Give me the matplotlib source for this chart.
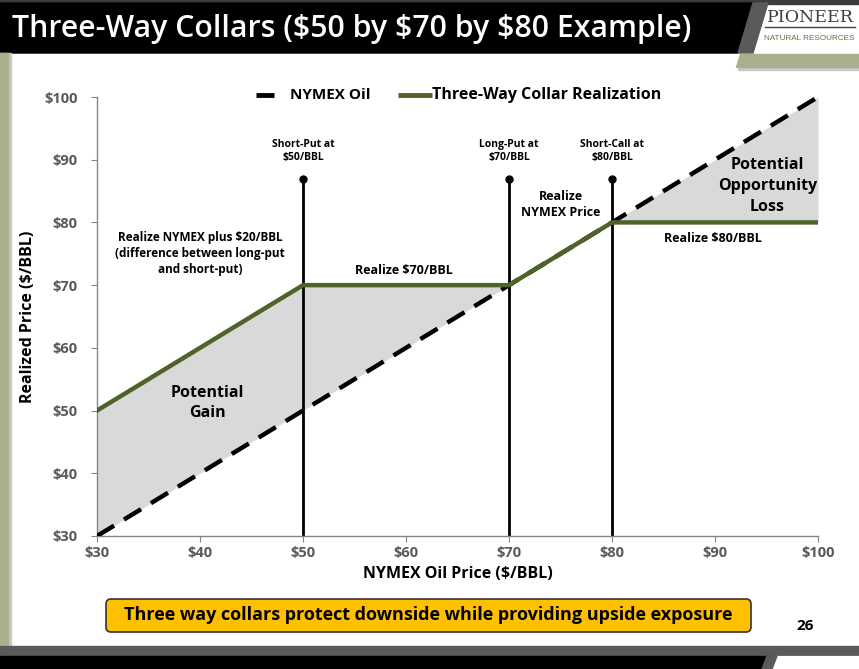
import matplotlib
matplotlib.use("Agg")
import matplotlib.pyplot as plt
from matplotlib.patches import Polygon, Rectangle, FancyBboxPatch
import numpy as np

plt.rcParams['font.family'] = ['Open Sans', 'DejaVu Sans']

# data
nymex_x = [30, 100]
nymex_y = [30, 100]
collar_x = [30, 50, 70, 80, 100]
collar_y = [50, 70, 70, 80, 80]
strikes = [50, 70, 80]
strike_top = 87
strike_labels = ['Short-Put at\n$50/BBL', 'Long-Put at\n$70/BBL', 'Short-Call at\n$80/BBL']
x_ticks = [30, 40, 50, 60, 70, 80, 90, 100]
y_ticks = [30, 40, 50, 60, 70, 80, 90, 100]

green = '#4f6228'
olive = '#a9ae8c'
tick_gray = '#595959'

W, H = 859, 669
fig = plt.figure(figsize=(W / 100, H / 100), dpi=100)
fig.patch.set_facecolor('white')

# slide decoration in pixel coordinates
bg = fig.add_axes([0, 0, 1, 1], zorder=0)
bg.set_xlim(0, W)
bg.set_ylim(H, 0)
bg.axis('off')
bg.add_patch(Rectangle((0, 0), W, 4, color='#3c3c3c'))
bg.add_patch(Polygon([(0, 3), (753, 3), (738, 53), (0, 53)], color='black'))
bg.add_patch(Polygon([(753, 3), (768, 3), (753, 53), (738, 53)], color='#5a5a5a'))
bg.add_patch(Polygon([(742, 57), (W, 57), (W, 70), (738, 70)], color='#c8c8c8'))
bg.add_patch(Polygon([(740, 54), (W, 54), (W, 67), (736, 67)], color=olive))
bg.add_patch(Rectangle((0, 53), 11, 592, color='#c8c8c8'))
bg.add_patch(Rectangle((0, 53), 8, 592, color=olive))
bg.add_patch(Rectangle((0, 646), W, 11, color='#5a5a5a'))
bg.add_patch(Rectangle((0, 656), W, 13, color='black'))
bg.add_patch(Polygon([(775, 656), (W, 656), (W, 669), (770, 669)], color='white'))
bg.add_patch(Polygon([(767, 656), (777, 656), (772, 669), (762, 669)], color='#5a5a5a'))

bg.text(12, 29, 'Three-Way Collars ($50 by $70 by $80 Example)', color='white',
        fontsize=21.8, fontweight='semibold', va='center', ha='left')
bg.text(810, 17, 'PIONEER', color='#404040', fontsize=12.5, family='DejaVu Serif',
        ha='center', va='center')
bg.plot([765, 855], [27, 27], color='#404040', lw=1)
bg.text(809, 38, 'NATURAL RESOURCES', color='#6a7040', fontsize=5.9,
        ha='center', va='center', family='Liberation Sans')

# legend drawn by hand, as on the slide
bg.plot([256, 274], [95, 95], color='black', lw=3.5, solid_capstyle='butt')
bg.text(290, 95, 'NYMEX Oil', fontsize=11, fontweight='bold', va='center', ha='left')
bg.plot([398, 432], [95, 95], color=green, lw=3.5, solid_capstyle='butt')
bg.text(432, 95, 'Three-Way Collar Realization', fontsize=11.5, fontweight='bold',
        va='center', ha='left')

box = FancyBboxPatch((106, 599), 645, 33, boxstyle='round,pad=0,rounding_size=5',
                     facecolor='#ffc000', edgecolor='#333333', lw=1.2)
bg.add_patch(box)
bg.text(428, 615.5, 'Three way collars protect downside while providing upside exposure',
        fontsize=13, fontweight='bold', ha='center', va='center', color='black')
bg.text(805, 626, '26', fontsize=11, fontweight='bold', ha='center', va='center')

# chart
ax = fig.add_axes([97 / W, 1 - 536 / H, (818 - 97) / W, (536 - 97) / H], zorder=1)
ax.patch.set_alpha(0)
ax.set_xlim(30, 100)
ax.set_ylim(30, 100)

cx = np.array(collar_x, dtype=float)
cy = np.array(collar_y, dtype=float)
ny = np.interp(cx, nymex_x, nymex_y)
ax.fill_between(cx, cy, ny, color='#d9d9d9', lw=0, zorder=1)

for s in strikes:
    ax.plot([s, s], [30, strike_top], color='black', lw=2, zorder=2)
    ax.plot([s], [strike_top], 'o', color='black', ms=5, zorder=3)
for s, lab in zip(strikes, strike_labels):
    ax.text(s, strike_top + 4.4, lab, ha='center', va='center', fontsize=7.5,
            fontweight='bold', linespacing=1.25)

ax.plot(nymex_x, nymex_y, color='black', lw=3.2, dashes=(4.5, 2.6), zorder=4)
ax.plot(collar_x, collar_y, color=green, lw=3.2, zorder=5)

ax.text(75.0, 82.8, 'Realize\nNYMEX Price', ha='center', va='center', fontsize=9,
        fontweight='bold', linespacing=1.3)
ax.text(95.1, 85.8, 'Potential\nOpportunity\nLoss', ha='center', va='center',
        fontsize=11.5, fontweight='bold', linespacing=1.38)
ax.text(89.8, 77.5, 'Realize $80/BBL', ha='center', va='center', fontsize=9,
        fontweight='bold')
ax.text(59.8, 72.4, 'Realize $70/BBL', ha='center', va='center', fontsize=9,
        fontweight='bold')
ax.text(40.0, 75.1, 'Realize NYMEX plus $20/BBL\n(difference between long-put\nand short-put)',
        ha='center', va='center', fontsize=8.5, fontweight='bold', linespacing=1.3)
ax.text(40.7, 51.2, 'Potential\nGain', ha='center', va='center', fontsize=11.5,
        fontweight='bold', linespacing=1.3)

ax.set_xticks(x_ticks)
ax.set_yticks(y_ticks)
ax.set_xticklabels(['$%d' % v for v in x_ticks])
ax.set_yticklabels(['$%d' % v for v in y_ticks])
ax.tick_params(direction='out', length=4, color='#868686', labelcolor=tick_gray,
               labelsize=10.5)
ax.tick_params(axis='y', pad=10)
for lab in ax.get_xticklabels() + ax.get_yticklabels():
    lab.set_fontweight('bold')
for side in ['top', 'right']:
    ax.spines[side].set_visible(False)
for side in ['left', 'bottom']:
    ax.spines[side].set_color('#868686')
    ax.spines[side].set_linewidth(1)

ax.set_xlabel('NYMEX Oil Price ($/BBL)', fontsize=11.5, fontweight='bold', labelpad=4)
ax.set_ylabel('Realized Price ($/BBL)', fontsize=11.5, fontweight='bold', labelpad=6)

fig.savefig('out.png', dpi=100)
